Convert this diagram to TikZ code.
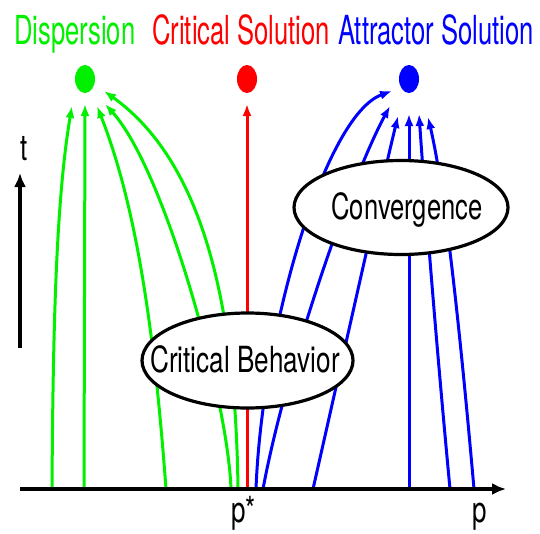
\documentclass[tikz,border=0pt]{standalone}
\usepackage{graphicx}
\usepackage{fontspec}
\setmainfont{TeX Gyre Heros}
\usetikzlibrary{arrows.meta,shapes.geometric}
\definecolor{cgreen}{RGB}{0,240,0}
\definecolor{cred}{RGB}{255,0,0}
\definecolor{cblue}{RGB}{0,0,255}
\newcommand{\hsq}[2]{\scalebox{#1}[1]{#2}}
\begin{document}
\begin{tikzpicture}[x=1pt,y=-1pt,
  flow/.style={line width=3pt,-{Latex[length=12pt,width=9pt]}},
  axisline/.style={line width=4pt,-{Latex[length=14pt,width=12pt]}},
  dot/.style={ellipse,draw=none,inner sep=0pt,minimum width=20pt,minimum height=28pt},
  bubble/.style={ellipse,draw=black,line width=3.2pt,fill=white,inner sep=0pt},
  title/.style={inner sep=0pt,anchor=base west,font=\fontsize{40}{44}\selectfont},
  lbl/.style={inner sep=0pt,font=\fontsize{36}{40}\selectfont}]
\useasboundingbox (0,0) rectangle (540,533);
\fill[white] (0,0) rectangle (540,533);

% titles
\node[title,text=cgreen] (tdisp) at (14,44) {\hsq{0.64}{Dispersion}};
\node[title,text=cred] (tcrit) at (152,44) {\hsq{0.64}{Critical Solution}};
\node[title,text=cblue] (tattr) at (338,44) {\hsq{0.64}{Attractor Solution}};

% end points on the p axis
\coordinate (g1) at (52,489);
\coordinate (g2) at (84,489);
\coordinate (g3) at (166,489);
\coordinate (g4) at (231,489);
\coordinate (g5) at (238,489);
\coordinate (r1) at (247,489);
\coordinate (b1) at (256,489);
\coordinate (b2) at (263,489);
\coordinate (b3) at (313,489);
\coordinate (b4) at (409,489);
\coordinate (b5) at (450,489);
\coordinate (b6) at (474,489);
% arrow tips near the solutions
\coordinate (g1t) at (72,106);
\coordinate (g2t) at (85,104);
\coordinate (g3t) at (97,106);
\coordinate (g4t) at (105,104);
\coordinate (g5t) at (104,91);
\coordinate (r1t) at (247,104);
\coordinate (b1t) at (392,91);
\coordinate (b2t) at (390,106);
\coordinate (b3t) at (398,116);
\coordinate (b4t) at (409,114);
\coordinate (b5t) at (419,114);
\coordinate (b6t) at (428,117);

% green curves
\draw[flow,cgreen] (g1) .. controls (53,330) and (56,200) .. (g1t);
\draw[flow,cgreen] (g2) -- (g2t);
\draw[flow,cgreen] (g3) .. controls (155,340) and (138,210) .. (g3t);
\draw[flow,cgreen] (g4) .. controls (228,400) and (165,170) .. (g4t);
\draw[flow,cgreen] (g5) .. controls (236,340) and (215,170) .. (g5t);
% red
\draw[flow,cred] (r1) -- (r1t);
% blue curves
\draw[flow,cblue] (b1) .. controls (262,330) and (325,115) .. (b1t);
\draw[flow,cblue] (b2) .. controls (285,370) and (350,180) .. (b2t);
\draw[flow,cblue] (b3) .. controls (340,370) and (380,190) .. (b3t);
\draw[flow,cblue] (b4) -- (b4t);
\draw[flow,cblue] (b5) .. controls (435,330) and (425,200) .. (b5t);
\draw[flow,cblue] (b6) .. controls (460,330) and (445,190) .. (b6t);

% bubbles
\node[bubble,minimum width=214pt,minimum height=94pt] (conv) at (401,207.5) {};
\node[lbl,anchor=base] (convt) at (407,219) {\hsq{0.71}{Convergence}};
\node[bubble,minimum width=211pt,minimum height=95pt] (crit) at (247.5,360.5) {};
\node[lbl,anchor=base] (critt) at (245,372) {\hsq{0.725}{Critical Behavior}};

% solution dots
\node[dot,fill=cgreen] (gd) at (85,79) {};
\node[dot,fill=cred] (rd) at (247,79) {};
\node[dot,fill=cblue] (bd) at (409,79) {};

% axes
\coordinate (o) at (20,489);
\coordinate (pend) at (506,489);
\coordinate (t0) at (20,348);
\coordinate (tend) at (20,173);
\draw[axisline] (o) -- (pend);
\draw[axisline] (t0) -- (tend);
\node[lbl,anchor=base] (tl) at (24,160) {\hsq{0.72}{t}};
\node[lbl,anchor=base west] (pstar) at (231,522) {\hsq{0.72}{p*}};
\node[lbl,anchor=base west] (pl) at (472,522) {\hsq{0.72}{p}};
\end{tikzpicture}
\end{document}
